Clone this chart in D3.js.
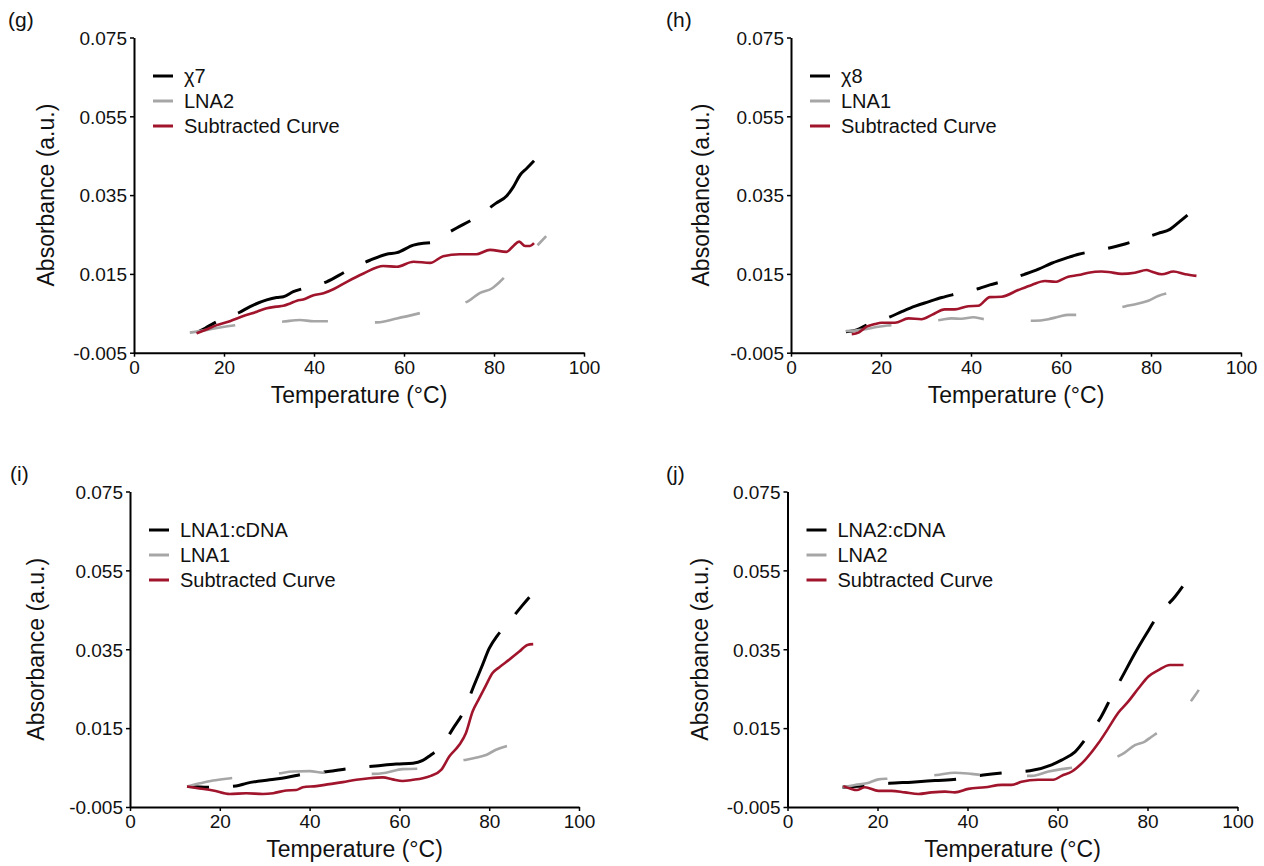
<!DOCTYPE html>
<html>
<head>
<meta charset="utf-8">
<script src="https://cdn.jsdelivr.net/npm/d3@7/dist/d3.min.js"></script>
<style>
  html, body { margin: 0; padding: 0; background: #fff; }
  svg { display: block; font-family: "Liberation Sans", Arial, sans-serif; }
</style>
</head>
<body>
<svg id="fig" width="1264" height="866"></svg>
<script>
// Axis ticks shared by all four melting-curve panels
const tempTicks = [0, 20, 40, 60, 80, 100];
const absTicks = [-0.005, 0.015, 0.035, 0.055, 0.075];

// (g) χ7 duplex, LNA2 alone and their difference  — [temperature °C, absorbance]
const chi7 = [[13.9,0.0001],[15.8,0.0012],[18.4,0.0029],[23.4,0.0052],[25.8,0.0067],[29.5,0.0084],[31.7,0.0090],[33.2,0.0092],[35.4,0.0105],[37.6,0.0113],[42.8,0.0130],[47.4,0.0158],[52.3,0.0184],[56.1,0.0200],[58.4,0.0204],[62.1,0.0223],[64.3,0.0228],[65.8,0.0229],[66.9,0.0236],[71.6,0.0266],[76.1,0.0294],[80.4,0.0329],[82.8,0.0348],[84.3,0.0371],[85.8,0.0401],[87.3,0.0418],[88.9,0.0437]];
const lna2G = [[12.4,0.0001],[16.2,0.0008],[19.1,0.0014],[22.7,0.0020],[33.2,0.0029],[36.9,0.0033],[39.9,0.0030],[43.4,0.0030],[54.1,0.0027],[58.4,0.0037],[64.1,0.0052],[74.3,0.0081],[76.9,0.0102],[79.5,0.0113],[81.3,0.0130],[82.8,0.0147],[90.2,0.0229],[91.6,0.0246]];
const subG = [[13.9,-0.0001],[16.1,0.0009],[18.4,0.0020],[21.3,0.0030],[24.3,0.0043],[27.3,0.0054],[29.5,0.0063],[31.7,0.0067],[33.2,0.0069],[34.7,0.0075],[36.2,0.0082],[37.6,0.0085],[39.9,0.0096],[42.1,0.0101],[44.3,0.0111],[47.3,0.0130],[51.0,0.0151],[55.4,0.0170],[58.4,0.0168],[62.1,0.0181],[65.8,0.0178],[68.7,0.0195],[72.4,0.0200],[76.1,0.0200],[79.1,0.0211],[82.8,0.0206],[84.3,0.0221],[85.6,0.0232],[86.9,0.0221],[88.0,0.0221],[88.9,0.0228]];

// (h) χ8 duplex, LNA1 alone and their difference
const chi8 = [[12.2,0.0003],[14.6,0.0008],[16.8,0.0020],[22.0,0.0041],[24.6,0.0054],[27.6,0.0068],[30.5,0.0079],[33.5,0.0090],[36.6,0.0099],[41.8,0.0113],[44.2,0.0122],[46.7,0.0130],[51.9,0.0149],[55.0,0.0162],[57.9,0.0177],[61.6,0.0192],[63.9,0.0200],[66.4,0.0206],[71.9,0.0219],[74.2,0.0226],[76.6,0.0234],[81.6,0.0253],[84.2,0.0263],[86.1,0.0280],[88.1,0.0299]];
const lna1H = [[12.2,0.0005],[15.7,0.0008],[19.4,0.0016],[22.2,0.0020],[33.1,0.0033],[35.7,0.0037],[37.9,0.0036],[40.5,0.0040],[43.1,0.0035],[54.1,0.0031],[57.2,0.0035],[59.4,0.0041],[61.6,0.0046],[63.9,0.0046],[74.4,0.0068],[77.2,0.0075],[79.4,0.0082],[81.6,0.0094],[84.2,0.0102]];
const subH = [[13.5,-0.0003],[15.0,0.0001],[16.8,0.0016],[18.7,0.0023],[20.1,0.0026],[23.1,0.0026],[26.1,0.0037],[29.0,0.0035],[31.3,0.0046],[34.2,0.0060],[36.4,0.0060],[39.4,0.0068],[41.6,0.0069],[44.2,0.0091],[46.8,0.0092],[50.5,0.0109],[53.5,0.0122],[56.4,0.0132],[58.7,0.0130],[61.6,0.0143],[63.9,0.0147],[66.1,0.0153],[69.0,0.0156],[70.5,0.0155],[73.5,0.0150],[76.4,0.0153],[79.0,0.0160],[80.1,0.0156],[82.4,0.0149],[85.0,0.0156],[87.6,0.0149],[90.1,0.0145]];

// (i) LNA1:cDNA duplex, LNA1 alone and their difference
const lna1cDNA = [[12.7,0.0002],[18.1,0.0000],[23.6,0.0003],[25.9,0.0010],[31.1,0.0019],[34.8,0.0025],[38.9,0.0034],[44.1,0.0040],[49.0,0.0048],[54.7,0.0054],[59.3,0.0059],[63.0,0.0061],[65.2,0.0068],[67.0,0.0082],[69.0,0.0099],[72.0,0.0150],[74.4,0.0194],[76.5,0.0255],[78.5,0.0310],[80.0,0.0352],[81.9,0.0386],[83.9,0.0412],[87.3,0.0460],[90.0,0.0496]];
const lna1I = [[12.7,0.0002],[15.6,0.0010],[18.5,0.0017],[22.4,0.0023],[33.0,0.0035],[36.3,0.0040],[40.0,0.0041],[43.0,0.0037],[53.9,0.0034],[57.0,0.0037],[60.7,0.0046],[63.9,0.0047],[74.4,0.0069],[77.0,0.0075],[79.3,0.0082],[81.5,0.0095],[84.1,0.0105]];
const subI = [[12.7,0.0002],[14.8,-0.0002],[18.5,-0.0008],[22.2,-0.0017],[25.9,-0.0015],[29.6,-0.0017],[31.9,-0.0015],[34.8,-0.0008],[37.0,-0.0007],[38.5,0.0000],[41.5,0.0003],[44.4,0.0008],[47.4,0.0013],[50.4,0.0019],[53.3,0.0023],[56.3,0.0025],[58.5,0.0020],[60.7,0.0016],[63.0,0.0019],[65.2,0.0023],[67.0,0.0029],[69.3,0.0044],[71.1,0.0078],[73.3,0.0107],[74.8,0.0137],[76.3,0.0192],[77.8,0.0226],[79.3,0.0259],[80.7,0.0289],[82.2,0.0304],[84.4,0.0323],[86.7,0.0344],[88.5,0.0361],[89.8,0.0363]];

// (j) LNA2:cDNA duplex, LNA2 alone and their difference
const lna2cDNA = [[12.2,0.0000],[14.6,0.0002],[17.2,0.0003],[22.6,0.0010],[27.6,0.0013],[32.8,0.0017],[38.0,0.0021],[43.5,0.0031],[48.2,0.0037],[53.9,0.0042],[58.7,0.0057],[60.9,0.0069],[63.9,0.0090],[66.7,0.0130],[69.7,0.0179],[72.0,0.0230],[74.6,0.0285],[77.2,0.0340],[79.8,0.0390],[82.4,0.0437],[86.1,0.0483],[88.9,0.0527]];
const lna2J = [[12.2,0.0000],[15.0,0.0006],[17.6,0.0010],[20.2,0.0020],[22.6,0.0022],[33.1,0.0031],[37.2,0.0037],[40.9,0.0034],[43.5,0.0031],[54.3,0.0029],[58.0,0.0040],[60.9,0.0046],[63.5,0.0050],[74.4,0.0084],[77.2,0.0107],[79.4,0.0116],[80.9,0.0128],[83.0,0.0145],[90.4,0.0230],[91.4,0.0247]];
const subJ = [[12.4,0.0003],[13.9,-0.0003],[15.4,-0.0007],[17.2,0.0000],[20.2,-0.0009],[23.1,-0.0009],[26.1,-0.0013],[29.1,-0.0017],[32.0,-0.0013],[35.0,-0.0011],[37.2,-0.0013],[40.2,-0.0004],[43.9,0.0000],[47.6,0.0006],[49.8,0.0006],[52.0,0.0014],[55.7,0.0019],[59.1,0.0019],[60.9,0.0029],[63.2,0.0040],[66.1,0.0069],[69.1,0.0112],[71.3,0.0150],[73.5,0.0189],[75.7,0.0217],[78.0,0.0251],[80.2,0.0281],[82.4,0.0297],[85.0,0.0310],[88.0,0.0310]];

// Series names per panel
const legendG = ["χ7", "LNA2", "Subtracted Curve"];
const legendH = ["χ8", "LNA1", "Subtracted Curve"];
const legendI = ["LNA1:cDNA", "LNA1", "Subtracted Curve"];
const legendJ = ["LNA2:cDNA", "LNA2", "Subtracted Curve"];

// Line styles for duplex / single strand / subtracted
const styles = [
  { color: "#000000", width: 3, dash: "22 24 68 24" },
  { color: "#a6a6a6", width: 2.6, dash: "46 47" },
  { color: "#a0142c", width: 2.6, dash: null }
];

const panels = [
  { tag: "(g)", tagX: 8,   tagY: 27,  x0: 134,   x1: 584,    top: 37.5,  bottom: 352.7, titleOff: 80, series: [chi7, lna2G, subG], names: legendG },
  { tag: "(h)", tagX: 666, tagY: 27,  x0: 791,   x1: 1241,   top: 37.5,  bottom: 352.7, titleOff: 82, series: [chi8, lna1H, subH], names: legendH },
  { tag: "(i)", tagX: 10,  tagY: 481, x0: 130,   x1: 579,    top: 491.5, bottom: 807,   titleOff: 86, series: [lna1cDNA, lna1I, subI], names: legendI },
  { tag: "(j)", tagX: 666, tagY: 481, x0: 787.5, x1: 1237.5, top: 491.5, bottom: 807,   titleOff: 80, series: [lna2cDNA, lna2J, subJ], names: legendJ }
];

const svg = d3.select("#fig");
const textColor = "#111";
// plain hyphen for negative tick values
const absFormat = v => d3.format(".3f")(v).replace("\u2212", "-");

panels.forEach(p => {
  const g = svg.append("g");
  const x = d3.scaleLinear().domain([0, 100]).range([p.x0, p.x1]);
  const y = d3.scaleLinear().domain([-0.005, 0.075]).range([p.bottom, p.top]);

  // panel tag
  g.append("text").attr("x", p.tagX).attr("y", p.tagY)
    .attr("font-size", 21).attr("fill", textColor).text(p.tag);

  // x axis
  const xAxis = g.append("g").attr("transform", `translate(0,${p.bottom})`)
    .call(d3.axisBottom(x).tickValues(tempTicks).tickFormat(d3.format("d")).tickSizeInner(4).tickSizeOuter(0));
  // y axis
  const yAxis = g.append("g").attr("transform", `translate(${p.x0},0)`)
    .call(d3.axisLeft(y).tickValues(absTicks).tickFormat(absFormat).tickSizeInner(4).tickSizeOuter(0));

  [xAxis, yAxis].forEach(a => {
    a.select(".domain").attr("stroke", "#000").attr("stroke-width", 2);
    a.selectAll(".tick line").attr("stroke", "#000").attr("stroke-width", 1.5);
    a.selectAll(".tick text").attr("fill", textColor).attr("font-size", 19)
      .attr("font-family", "'Liberation Sans', Arial, sans-serif");
  });
  xAxis.selectAll(".tick text").attr("dy", null).attr("y", 21);
  yAxis.selectAll(".tick text").attr("x", -7).attr("dy", "0.36em");

  // axis titles
  g.append("text").attr("x", (p.x0 + p.x1) / 2).attr("y", p.bottom + 50)
    .attr("text-anchor", "middle").attr("font-size", 23).attr("fill", textColor)
    .text("Temperature (°C)");
  g.append("text")
    .attr("transform", `translate(${p.x0 - p.titleOff},${(p.top + p.bottom) / 2}) rotate(-90)`)
    .attr("text-anchor", "middle").attr("font-size", 23).attr("fill", textColor)
    .text("Absorbance (a.u.)");

  // curves
  const line = d3.line().x(d => x(d[0])).y(d => y(d[1])).curve(d3.curveMonotoneX);
  p.series.forEach((s, i) => {
    const st = styles[i];
    g.append("path").datum(s)
      .attr("d", line)
      .attr("fill", "none")
      .attr("stroke", st.color)
      .attr("stroke-width", st.width)
      .attr("stroke-linejoin", "round")
      .attr("stroke-dasharray", st.dash);
  });

  // legend
  const lg = g.append("g").attr("transform", `translate(${p.x0},${p.top + 38.5})`);
  p.names.forEach((name, i) => {
    const row = lg.append("g").attr("transform", `translate(0,${i * 25})`);
    row.append("line").attr("x1", 19).attr("x2", 39).attr("y1", 0).attr("y2", 0)
      .attr("stroke", styles[i].color).attr("stroke-width", 3);
    row.append("text").attr("x", 50).attr("y", 0).attr("dy", "0.35em")
      .attr("font-size", 20).attr("fill", textColor).text(name);
  });
});
</script>
</body>
</html>
